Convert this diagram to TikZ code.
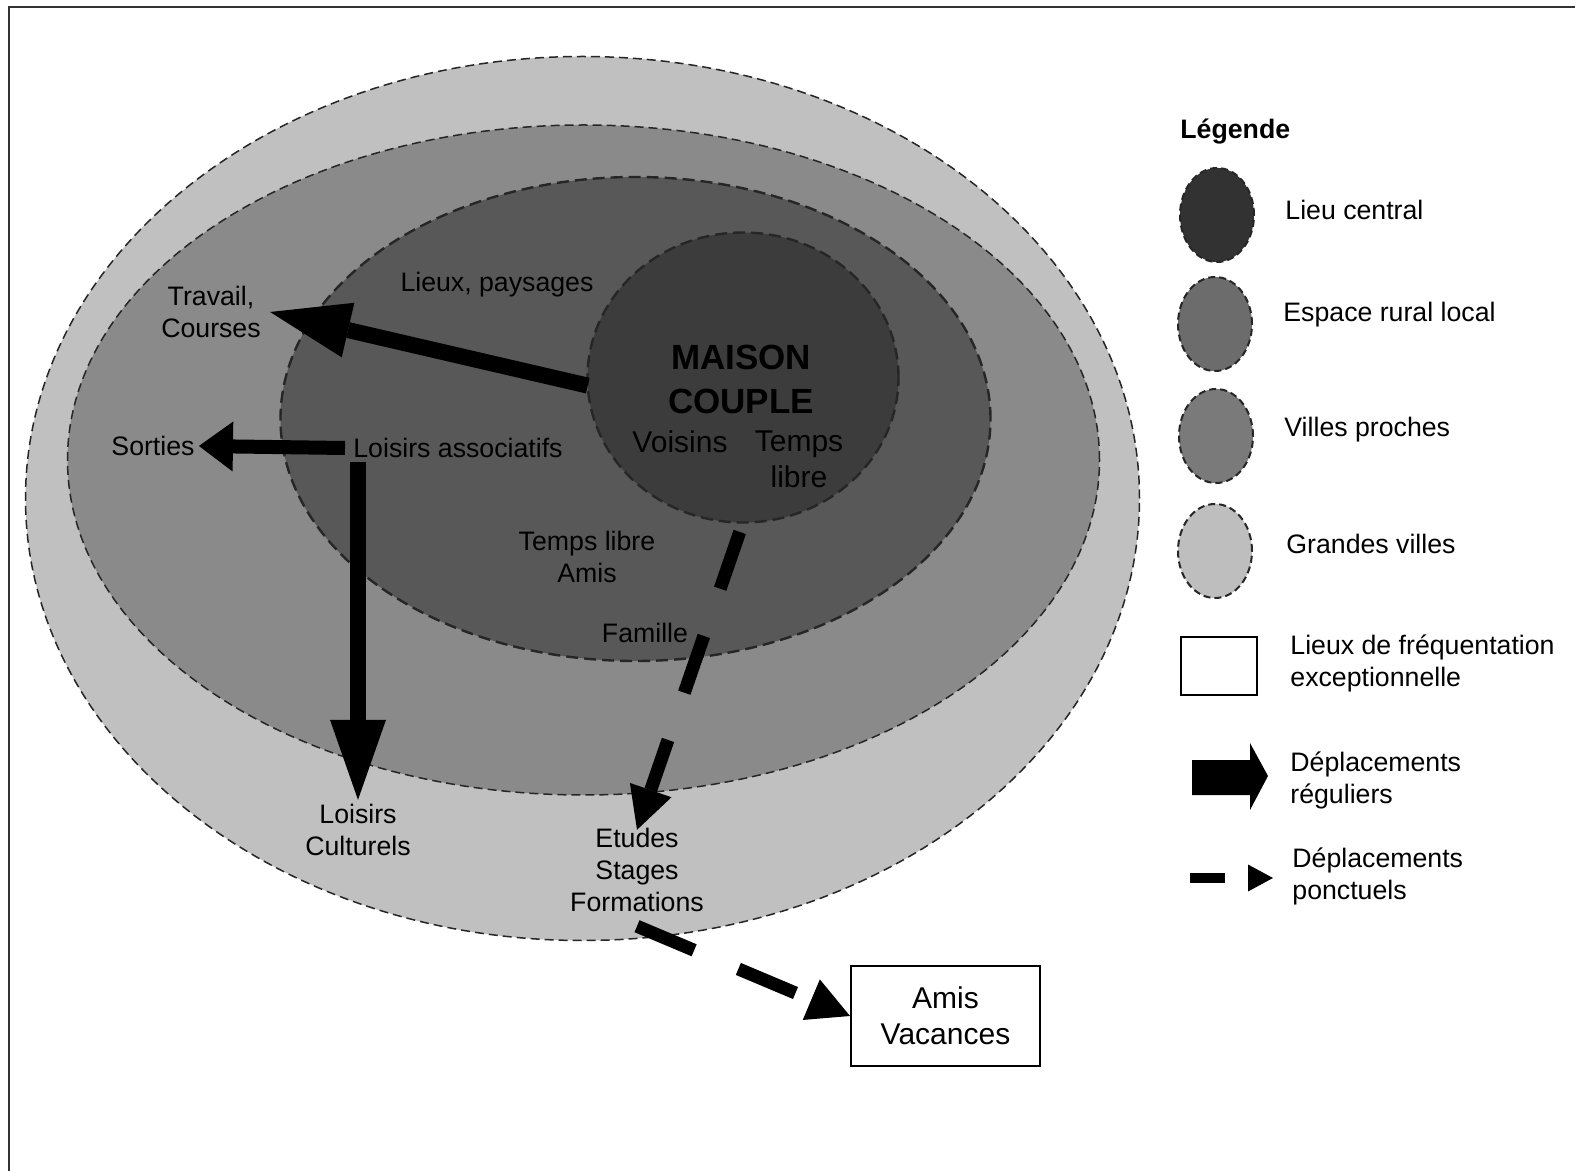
\documentclass[tikz,border=0pt]{standalone}
\usepackage{fontspec}
\setmainfont{Liberation Sans}
\usetikzlibrary{shapes.geometric,arrows.meta,calc}
\definecolor{gv}{RGB}{192,192,192}
\definecolor{vp}{RGB}{138,138,138}
\definecolor{er}{RGB}{88,88,88}
\definecolor{lc}{RGB}{60,60,60}
\definecolor{lgA}{RGB}{50,50,50}
\definecolor{lgB}{RGB}{108,108,108}
\definecolor{lgC}{RGB}{122,122,122}
\definecolor{lgD}{RGB}{190,190,190}
\definecolor{framecol}{RGB}{50,50,50}
\begin{document}
\begin{tikzpicture}[x=0.5pt,y=-0.5pt,
  zone/.style={ellipse, inner sep=0pt, outer sep=0pt, draw=black!85, line width=0.75pt, dash pattern=on 4.5pt off 2.5pt},
  zonethick/.style={zone, line width=1.2pt, dash pattern=on 6pt off 3pt},
  legell/.style={ellipse, inner sep=0pt, draw=black!85, line width=1pt, dash pattern=on 3.5pt off 2pt, minimum width=37pt, minimum height=47pt},
  lbl/.style={font=\fontsize{13.35pt}{16pt}\selectfont, align=center, inner sep=2pt},
  lbll/.style={lbl, align=left, anchor=west},
  midlbl/.style={font=\fontsize{15pt}{18pt}\selectfont, align=center, inner sep=2pt},
  boldlbl/.style={font=\fontsize{17.5pt}{22pt}\selectfont\bfseries, align=center, inner sep=2pt},
  regarrow/.style={line width=8pt, -{Triangle[length=40pt,width=28pt,line width=0pt]}},
  punctarrow/.style={line width=6.5pt, -{Triangle[length=21pt,width=22pt,line width=0pt]}}
]
\useasboundingbox (0,0) rectangle (1575,1171);
\clip (0,0) rectangle (1575,1171);
\fill[white] (0,0) rectangle (1575,1171);
\draw[framecol, line width=1pt] (9,7) rectangle (1600,1200);

% zones
\node[zone, fill=gv, minimum width=557pt, minimum height=442pt] (grandes) at (582.5,498.5) {};
\node[zone, fill=vp, minimum width=516pt, minimum height=335pt] (villes) at (583.5,460) {};
\node[zonethick, fill=er, minimum width=355pt, minimum height=242pt] (rural) at (635.5,419) {};
\node[zonethick, fill=lc, minimum width=155.5pt, minimum height=145pt] (maison) at (743,377.5) {};

% labels
\node[boldlbl] (mc) at (741,379) {MAISON\\COUPLE};
\node[midlbl] (voisins) at (680,442) {Voisins};
\node[midlbl] (temps) at (799,459) {Temps\\libre};
\node[lbl] (lieux) at (497,285) {Lieux, paysages};
\node[lbl, inner sep=4.5pt] (travail) at (211,312) {Travail,\\Courses};
\node[lbl] (sorties) at (153,446) {Sorties};
\node[lbll] (assoc) at (349,448) {Loisirs associatifs};
\node[lbl] (tlibre) at (587,557) {Temps libre\\Amis};
\node[lbl] (famille) at (645,633) {Famille};
\node[lbl] (culturels) at (358,830) {Loisirs\\Culturels};
\node[lbl] (etudes) at (637,870) {Etudes\\Stages\\Formations};
\node[midlbl, draw, line width=1pt, fill=white, minimum width=94.5pt, minimum height=50pt] (amis) at (945.5,1016) {Amis\\Vacances};

% connectors
\draw[regarrow] (maison.183) -- (travail.east);
\draw[line width=7pt, -{Triangle[length=17pt,width=25pt,line width=0pt]}] ([xshift=-2pt]assoc.west) -- (sorties.east);
\draw[regarrow] (culturels.north |- assoc.south) -- (culturels.north);
\draw[punctarrow, dash pattern=on 30pt off 25pt, dash phase=50pt] (maison.south) -- ([yshift=-3pt]etudes.north);
\draw[punctarrow, dash pattern=on 31pt off 24pt] ([yshift=-5pt]etudes.south) -- (amis.west);

% legend
\node[font=\fontsize{13.35pt}{16pt}\selectfont\bfseries, anchor=west, inner sep=2pt] (legende) at (1176,132) {Légende};
\node[legell, fill=lgA] (lg1) at (1217,215) {};
\node[legell, fill=lgB] (lg2) at (1215,324) {};
\node[legell, fill=lgC] (lg3) at (1216,436) {};
\node[legell, fill=lgD] (lg4) at (1215,551) {};
\node[lbll] (lt1) at (1281,210) {Lieu central};
\node[lbll] (lt2) at (1279,315) {Espace rural local};
\node[lbll] (lt3) at (1280,430) {Villes proches};
\node[lbll] (lt4) at (1282,544) {Grandes villes};
\node[draw, line width=1pt, fill=white, minimum width=38pt, minimum height=29pt, inner sep=0pt] (lg5) at (1219,666) {};
\node[lbll] (lt5) at (1286,663) {Lieux de fréquentation\\exceptionnelle};
\fill (1192,760) -- (1250,760) -- (1250,743) -- (1268,776) -- (1250,810) -- (1250,795) -- (1192,795) -- cycle;
\node[lbll] (lt6) at (1286,780) {Déplacements\\réguliers};
\coordinate (ld1) at (1190,878);
\coordinate (ld2) at (1273,878);
\draw[line width=5pt, dash pattern=on 17.5pt off 20pt, -{Triangle[length=12.5pt,width=13.5pt,line width=0pt]}] (ld1) -- (ld2);
\node[lbll] (lt7) at (1288,876) {Déplacements\\ponctuels};
\end{tikzpicture}
\end{document}
